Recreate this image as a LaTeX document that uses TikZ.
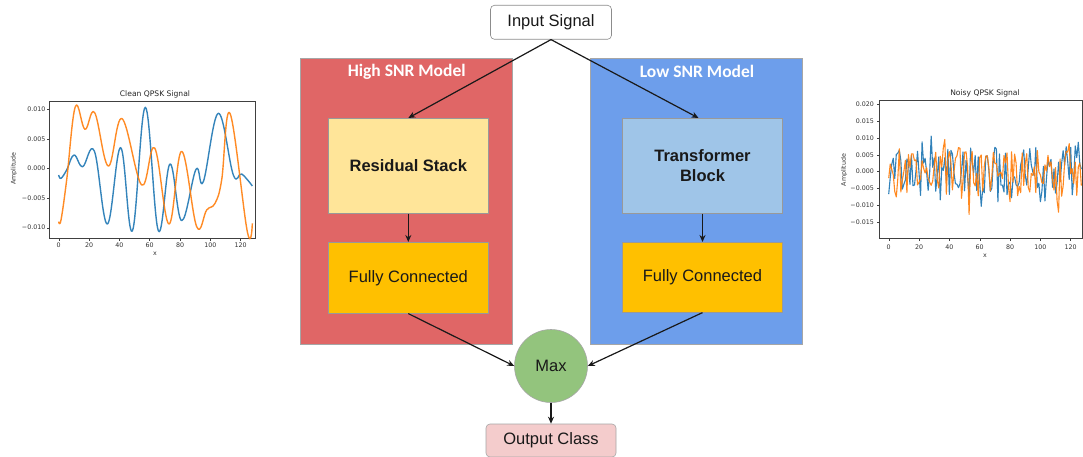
\documentclass[tikz,border=0pt]{standalone}
\usepackage{fontspec}
\setmainfont{Liberation Sans}
\newfontfamily\plotfont{DejaVu Sans}
\newfontfamily\titlefont{Carlito}
\usetikzlibrary{arrows.meta}

\definecolor{hired}{HTML}{E06666}
\definecolor{loblue}{HTML}{6D9EEB}
\definecolor{resyellow}{HTML}{FFE599}
\definecolor{fcorange}{HTML}{FFC000}
\definecolor{trblue}{HTML}{9FC5E8}
\definecolor{maxgreen}{HTML}{93C47D}
\definecolor{outpink}{HTML}{F4CCCC}
\definecolor{mplblue}{HTML}{1F77B4}
\definecolor{mplorange}{HTML}{FF7F0E}

\tikzset{
  base/.style={font=\fontsize{16.5}{19.5}\selectfont, text=black!90, inner sep=2pt},
  panel/.style={draw=black!35, line width=0.6pt},
  block/.style={base, draw=black!40, line width=0.6pt, minimum width=160pt},
  flow/.style={-{Stealth[length=7pt,width=6pt]}, line width=1.2pt, black!90},
  paneltitle/.style={text=white, font=\titlefont\bfseries\fontsize{17.5}{20}\selectfont},
  frame/.style={draw=black!75, line width=0.5pt},
  tick/.style={font=\plotfont\fontsize{6.3}{7}\selectfont, text=black!80, inner sep=0pt},
  ptitle/.style={font=\plotfont\fontsize{7.6}{9}\selectfont, text=black!85, inner sep=0pt},
  curve/.style={line width=1.4pt, line join=round, opacity=0.9},
  noisy/.style={line width=1.1pt, line join=round, opacity=0.92},
}

\begin{document}
\begin{tikzpicture}[x=1pt,y=-1pt]
\useasboundingbox[fill=white] (0,0) rectangle (1083,457);

% ---------- model panels ----------
\node[panel, fill=hired, minimum width=212pt, minimum height=286pt] (hp) at (406.7,201.2) {};
\node[panel, fill=loblue, minimum width=212pt, minimum height=286pt] (lp) at (696,201.2) {};
\node[paneltitle] (hpt) at (406.7,71.7) {High SNR Model};
\node[paneltitle] (lpt) at (697,71.7) {Low SNR Model};

% ---------- blocks ----------
\node[base, draw=black!45, line width=0.6pt, rounded corners=4pt, fill=white,
      minimum width=121pt, minimum height=34pt] (in) at (551,22.3) {Input Signal};
\node[block, fill=resyellow, minimum height=95pt, font=\bfseries\fontsize{16.5}{19.5}\selectfont] (res) at (408.3,165.8) {Residual Stack};
\node[block, fill=fcorange, minimum height=71pt] (fcl) at (408.3,277.8) {Fully Connected};
\node[block, fill=trblue, minimum height=95pt, align=center, font=\bfseries\fontsize{16.5}{20}\selectfont] (tr) at (702.5,165.8) {Transformer\\Block};
\node[block, fill=fcorange, minimum height=70pt] (fcr) at (702.5,277.3) {Fully Connected};
\node[base, circle, draw=black!35, line width=0.6pt, fill=maxgreen, minimum size=73pt] (mx) at (551,366) {Max};
\node[base, draw=black!35, line width=0.6pt, rounded corners=4pt, fill=outpink,
      minimum width=130pt, minimum height=33pt] (out) at (551,440.5) {Output Class};

% ---------- connectors ----------
\draw[flow] (in.south) -- (res.north);
\draw[flow] (in.south) -- ([xshift=-4pt]tr.north);
\draw[flow] (res.south) -- (fcl.north);
\draw[flow] (tr.south) -- (fcr.north);
\draw[flow] (fcl.south) -- (mx.west);
\draw[flow] (fcr.south) -- (mx.east);
\draw[flow] (mx.south) -- (out.north);

% ---------- clean signal plot ----------
\node[ptitle] (ct) at (155,94.7) {Clean QPSK Signal};
\draw[frame] (49,101.7) rectangle (255,238);
\foreach \v/\lab in {0/0.010,1/0.005,2/0.000,3/−0.005,4/−0.010} {
  \draw[black!75, line width=0.4pt] (49,109.3+29.6*\v) -- (46.5,109.3+29.6*\v);
  \node[tick, anchor=east] at (45.5,109.3+29.6*\v) {\lab};
}
\foreach \k in {0,...,6} {
  \draw[black!75, line width=0.4pt] (58.7+30.33*\k,238) -- (58.7+30.33*\k,240.5);
  \pgfmathtruncatemacro\lab{20*\k}
  \node[tick] at (58.7+30.33*\k,245.7) {\lab};
}
\node[tick] (cx) at (155,254) {x};
\node[tick, rotate=90] (cy) at (14,168.7) {Amplitude};
\begin{scope}[shift={(0,80)}, scale=1/3]
  \draw[curve, mplblue] plot[smooth, tension=0.65] coordinates {
    (176,285) (183,295) (200,270) (222,225) (248,260) (283,213) (322,432)
    (362,203) (397,453) (436,82) (475,452) (510,252) (545,422) (588,268)
    (610,305) (655,100) (700,285) (725,282) (757,318)};
  \draw[curve, mplorange] plot[smooth, tension=0.65] coordinates {
    (176,425) (183,420) (200,300) (226,80) (255,148) (284,98) (325,258)
    (366,116) (425,315) (464,204) (507,432) (545,214) (590,440) (620,390)
    (645,370) (665,300) (690,100) (742,455) (757,430)};
\end{scope}

% ---------- noisy signal plot ----------
\node[ptitle] (nt) at (985,93.3) {Noisy QPSK Signal};
\draw[frame] (1082.5,100) -- (879.3,100) -- (879.3,238) -- (1082.5,238) -- cycle;
\foreach \v/\lab in {-4/0.020,-3/0.015,-2/0.010,-1/0.005,0/0.000,1/−0.005,2/−0.010,3/−0.015} {
  \draw[black!75, line width=0.4pt] (879.3,171.7+16.8*\v) -- (876.8,171.7+16.8*\v);
  \node[tick, anchor=east] at (874,171.7+16.8*\v) {\lab};
}
\foreach \k in {0,...,6} {
  \draw[black!75, line width=0.4pt] (888.7+30.33*\k,238) -- (888.7+30.33*\k,240.5);
  \pgfmathtruncatemacro\lab{20*\k}
  \node[tick] at (888.7+30.33*\k,247.3) {\lab};
}
\node[tick] (nx) at (985,255.7) {x};
\node[tick, rotate=90] (ny) at (844,170) {Amplitude};
\begin{scope}
  \clip (879.3,100) rectangle (1083,238);
  \pgfmathsetseed{4217}
  \draw[noisy, mplblue] plot[variable=\t, samples=128, domain=0:127]
    ({888.7+1.5167*\t}, {171.7-3360*(0.0075*rand+0.0085*rand*rand*rand)});
  \pgfmathsetseed{9031}
  \draw[noisy, mplorange] plot[variable=\t, samples=128, domain=0:127]
    ({888.7+1.5167*\t}, {171.7-3360*(0.0075*rand+0.0095*rand*rand*rand)});
\end{scope}
\end{tikzpicture}
\end{document}
